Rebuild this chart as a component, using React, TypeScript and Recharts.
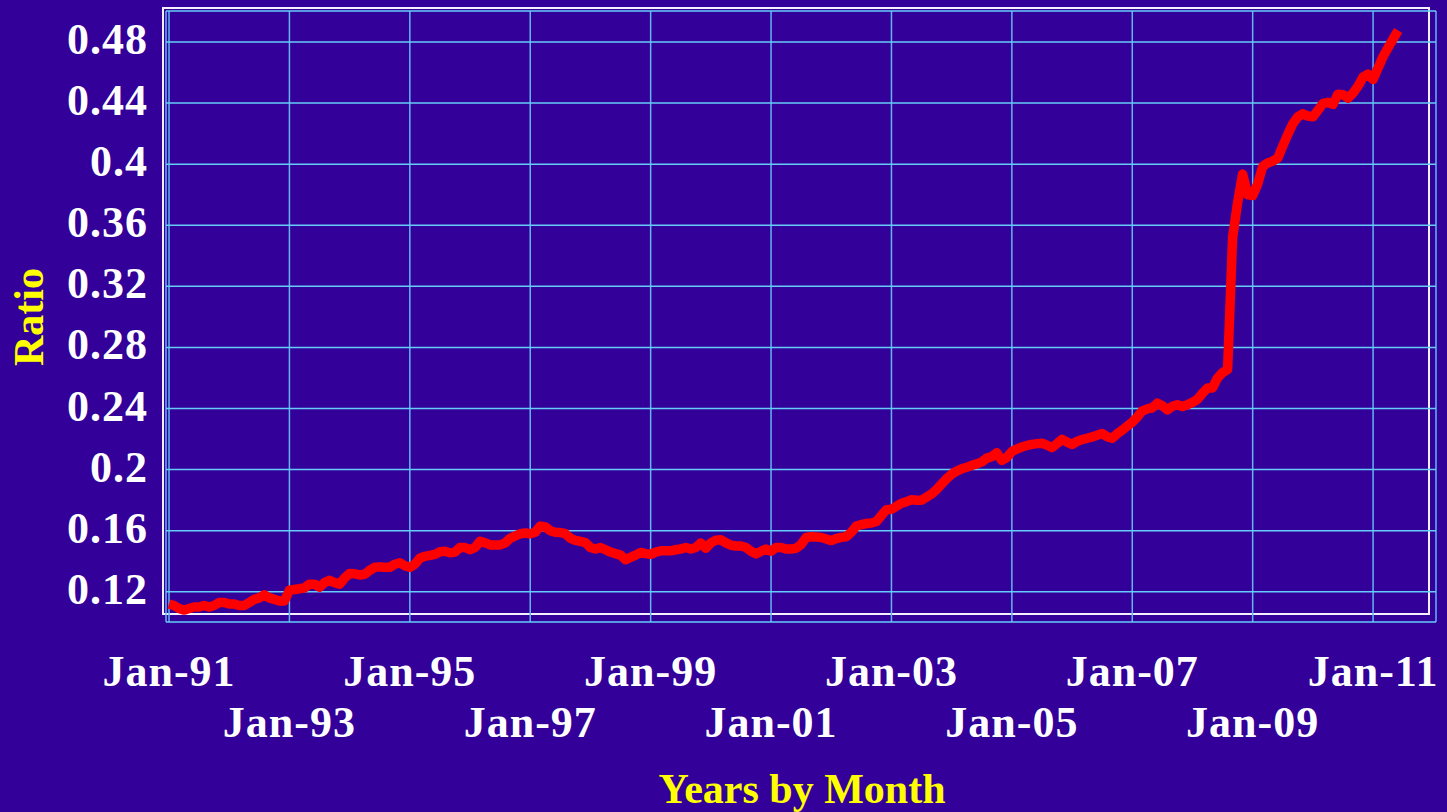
import { LineChart, Line, XAxis, YAxis, CartesianGrid } from 'recharts';

// monthly ratio, Jan 1991 .. Jun 2011
const ratio = [
  0.112, 0.111, 0.109, 0.108, 0.109, 0.110, 0.110, 0.111, 0.110, 0.111, 0.113, 0.113, // 1991
  0.112, 0.112, 0.111, 0.111, 0.113, 0.115, 0.116, 0.118, 0.116, 0.115, 0.114, 0.114, // 1992
  0.121, 0.1215, 0.122, 0.1225, 0.125, 0.125, 0.123, 0.126, 0.1275, 0.126, 0.125, 0.129, // 1993
  0.132, 0.1318, 0.131, 0.1315, 0.134, 0.136, 0.1363, 0.136, 0.136, 0.138, 0.139, 0.137, // 1994
  0.136, 0.138, 0.142, 0.1432, 0.1438, 0.1445, 0.1462, 0.1465, 0.1455, 0.146, 0.149, 0.149, // 1995
  0.1475, 0.149, 0.153, 0.152, 0.1507, 0.1507, 0.1507, 0.152, 0.155, 0.1565, 0.158, 0.1585, // 1996
  0.158, 0.159, 0.163, 0.1625, 0.160, 0.159, 0.1588, 0.158, 0.155, 0.1537, 0.153, 0.1522, // 1997
  0.149, 0.148, 0.149, 0.1475, 0.146, 0.145, 0.144, 0.141, 0.1425, 0.144, 0.1457, 0.145, // 1998
  0.1445, 0.146, 0.1468, 0.1468, 0.1468, 0.1475, 0.148, 0.149, 0.148, 0.149, 0.152, 0.1485, // 1999
  0.152, 0.1538, 0.154, 0.152, 0.1505, 0.150, 0.150, 0.149, 0.1465, 0.1448, 0.1465, 0.148, // 2000
  0.1465, 0.149, 0.149, 0.148, 0.148, 0.1485, 0.151, 0.1555, 0.156, 0.1558, 0.1555, 0.1545, // 2001
  0.1535, 0.1548, 0.1556, 0.156, 0.159, 0.163, 0.164, 0.1647, 0.165, 0.166, 0.170, 0.1737, // 2002
  0.174, 0.176, 0.178, 0.179, 0.1802, 0.180, 0.180, 0.182, 0.184, 0.187, 0.1905, 0.194, // 2003
  0.197, 0.199, 0.2005, 0.2015, 0.2028, 0.2037, 0.205, 0.2075, 0.2085, 0.211, 0.206, 0.208, // 2004
  0.2118, 0.2135, 0.2148, 0.2158, 0.2165, 0.217, 0.2172, 0.216, 0.2144, 0.217, 0.2198, 0.218, // 2005
  0.2165, 0.2185, 0.2197, 0.2205, 0.2214, 0.2225, 0.2236, 0.2215, 0.2205, 0.2235, 0.2258, 0.2285, // 2006
  0.231, 0.2345, 0.2385, 0.2398, 0.2405, 0.2435, 0.2418, 0.2391, 0.2415, 0.2425, 0.2413, 0.2425, // 2007
  0.244, 0.246, 0.250, 0.2535, 0.2535, 0.260, 0.2635, 0.2655, 0.352, 0.375, 0.3935, 0.380, // 2008
  0.3795, 0.387, 0.3985, 0.4008, 0.402, 0.404, 0.4119, 0.4195, 0.4265, 0.431, 0.433, 0.4315, // 2009
  0.431, 0.4352, 0.4398, 0.4405, 0.4392, 0.4458, 0.4455, 0.4432, 0.4465, 0.451, 0.457, 0.459, // 2010
  0.4555, 0.463, 0.4705, 0.4763, 0.482, 0.4875, // 2011
];

const xTickLabels = ['Jan-91', 'Jan-93', 'Jan-95', 'Jan-97', 'Jan-99', 'Jan-01', 'Jan-03', 'Jan-05', 'Jan-07', 'Jan-09', 'Jan-11'];
const xTicks = xTickLabels.map((_, i) => i * 24);
const yTicks = [0.12, 0.16, 0.2, 0.24, 0.28, 0.32, 0.36, 0.4, 0.44, 0.48];

const data = ratio.map((value, m) => ({ m, ratio: value }));

const BG = '#330099';
const serif = '"Liberation Serif", "Times New Roman", serif';

const XTick = ({ x, y, payload }: any) => {
  const idx = Math.round(payload.value / 24);
  return (
    <text
      x={x}
      y={y}
      dy={idx % 2 ? 115 : 64}
      textAnchor="middle"
      fill="#ffffff"
      style={{ fontFamily: serif, fontWeight: 'bold', fontSize: 44, letterSpacing: 1 }}
    >
      {xTickLabels[idx]}
    </text>
  );
};

const YTick = ({ x, y, payload }: any) => (
  <text
    x={x}
    y={y}
    dy={12}
    textAnchor="end"
    fill="#ffffff"
    style={{ fontFamily: serif, fontWeight: 'bold', fontSize: 44, letterSpacing: 1 }}
  >
    {String(+payload.value.toFixed(2))}
  </text>
);

export default function App() {
  return (
    <div style={{ position: 'fixed', left: 0, top: 0, width: 1447, height: 812, background: BG, overflow: 'hidden' }}>
      {/* plot frame */}
      <div
        style={{
          position: 'absolute',
          left: 162,
          top: 7,
          width: 1264,
          height: 604,
          border: '2px solid #f4f0ff',
        }}
      />
      <div style={{ position: 'absolute', left: 0, top: 0 }}>
        <LineChart width={1447} height={812} data={data} margin={{ top: 11, right: 11, left: 0, bottom: 40 }}>
          <CartesianGrid horizontal={false} stroke="#62b4f4" strokeWidth={1.5} />
          <CartesianGrid vertical={false} stroke="#66ccf8" strokeWidth={1.5} />
          <XAxis
            dataKey="m"
            type="number"
            domain={[-0.6, 252.54]}
            ticks={xTicks}
            interval={0}
            allowDataOverflow
            axisLine={false}
            tickLine={false}
            tickSize={0}
            tickMargin={0}
            height={150}
            tick={(p: any) => <XTick {...p} />}
          />
          <YAxis
            type="number"
            domain={[0.1002, 0.5003]}
            ticks={yTicks}
            interval={0}
            allowDataOverflow
            axisLine={false}
            tickLine={false}
            tickSize={0}
            tickMargin={18}
            width={166}
            tick={(p: any) => <YTick {...p} />}
          />
          <Line
            type="linear"
            dataKey="ratio"
            stroke="#ff0000"
            strokeWidth={9.5}
            strokeLinejoin="round"
            dot={false}
            isAnimationActive={false}
          />
        </LineChart>
      </div>
      <svg width={1447} height={812} style={{ position: 'absolute', left: 0, top: 0, pointerEvents: 'none' }}>
        <text
          x={802}
          y={803}
          textAnchor="middle"
          fill="#ffff00"
          style={{ fontFamily: serif, fontWeight: 'bold', fontSize: 42 }}
        >
          Years by Month
        </text>
        <text
          x={43}
          y={317}
          textAnchor="middle"
          transform="rotate(-90 43 317)"
          fill="#ffff00"
          style={{ fontFamily: serif, fontWeight: 'bold', fontSize: 42 }}
        >
          Ratio
        </text>
      </svg>
    </div>
  );
}
